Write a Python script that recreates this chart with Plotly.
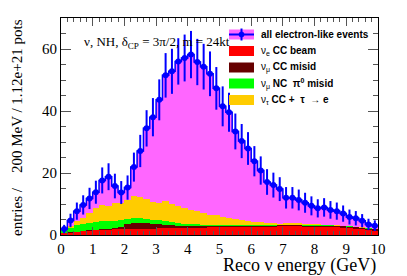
import numpy as np
import plotly.graph_objects as go

# ---- data (200 MeV bins, 0-10 GeV) ----
bin_centers = [0.1, 0.3, 0.5, 0.7, 0.9, 1.1, 1.3, 1.5, 1.7, 1.9,
               2.1, 2.3, 2.5, 2.7, 2.9, 3.1, 3.3, 3.5, 3.7, 3.9,
               4.1, 4.3, 4.5, 4.7, 4.9, 5.1, 5.3, 5.5, 5.7, 5.9,
               6.1, 6.3, 6.5, 6.7, 6.9, 7.1, 7.3, 7.5, 7.7, 7.9,
               8.1, 8.3, 8.5, 8.7, 8.9, 9.1, 9.3, 9.5, 9.7, 9.9]

all_events = [1.9, 4.7, 7.7, 9.7, 11.8, 13.8, 17.6, 18.8, 15.8, 13.7,
              15.3, 21.9, 27.1, 34.4, 38.0, 43.6, 51.5, 52.8, 56.0, 57.1,
              58.2, 55.8, 54.3, 52.0, 47.3, 41.5, 39.6, 33.4, 30.3, 27.9,
              23.8, 20.8, 17.1, 16.1, 14.8, 12.0, 12.0, 11.3, 10.4, 9.4,
              8.6, 8.9, 8.1, 7.7, 6.9, 5.8, 5.4, 4.6, 3.4, 3.0]

nue_cc_beam = [0.6, 0.8, 1.0, 1.2, 1.4, 1.5, 1.6, 1.7, 1.8, 1.9,
               2.0, 2.0, 2.0, 2.0, 2.0, 2.1, 2.1, 2.2, 2.2, 2.3,
               2.3, 2.4, 2.4, 2.5, 2.5, 2.6, 2.6, 2.6, 2.6, 2.6,
               2.7, 2.7, 2.7, 2.7, 2.8, 2.8, 2.8, 2.8, 2.7, 2.7,
               2.7, 2.6, 2.6, 2.5, 2.3, 2.2, 2.0, 1.8, 1.6, 1.4]

numu_cc_misid = [0.05, 0.1, 0.1, 0.1, 0.15, 0.15, 0.2, 0.25, 0.4, 0.8,
                 1.5, 1.9, 2.0, 1.9, 1.7, 1.4, 1.2, 1.0, 0.8, 0.6,
                 0.6, 0.5, 0.5, 0.4, 0.4, 0.4, 0.35, 0.35, 0.3, 0.3,
                 0.3, 0.3, 0.3, 0.3, 0.3, 0.3, 0.3, 0.3, 0.35, 0.35,
                 0.35, 0.4, 0.4, 0.4, 0.45, 0.45, 0.45, 0.45, 0.4, 0.4]

numu_nc_pi0_misid = [0.85, 1.5, 2.0, 2.3, 2.45, 2.65, 2.7, 2.55, 2.2, 2.1,
                     1.8, 1.6, 1.5, 1.4, 1.3, 1.2, 1.1, 1.0, 0.9, 0.8,
                     0.6, 0.5, 0.45, 0.4, 0.35, 0.3, 0.3, 0.25, 0.25, 0.2,
                     0.2, 0.2, 0.15, 0.15, 0.1, 0.1, 0.1, 0.1, 0.1, 0.1,
                     0.1, 0.1, 0.1, 0.1, 0.1, 0.1, 0.1, 0.1, 0.1, 0.1]

nutau_cc = [0.2, 0.6, 1.5, 1.9, 3.0, 4.3, 5.2, 4.7, 5.9, 5.6,
            6.0, 7.0, 6.6, 6.3, 5.5, 5.6, 6.5, 5.8, 5.3, 5.0,
            4.7, 4.4, 3.75, 3.3, 3.05, 2.5, 2.15, 1.9, 1.65, 1.4,
            1.1, 0.9, 0.85, 0.65, 0.5, 0.7, 0.8, 0.7, 0.55, 0.35,
            0.25, 0.2, 0.2, 0.2, 0.15, 0.15, 0.15, 0.15, 0.1, 0.1]

bin_width = 0.2
x_ticks = [0, 1, 2, 3, 4, 5, 6, 7, 8, 9, 10]
y_ticks = [0, 20, 40, 60]

# ---- colours ----
C_PINK = "#ff66ff"
C_RED = "#ff0000"
C_DARKRED = "#660000"
C_GREEN = "#00ff00"
C_YELLOW = "#ffcc00"
C_BLUE = "#0000ff"

x = np.array(bin_centers)
r = np.array(nue_cc_beam)
d = np.array(numu_cc_misid)
g = np.array(numu_nc_pi0_misid)
t = np.array(nutau_cc)
tot = np.array(all_events)

fig = go.Figure()

# total (pink) histogram
fig.add_trace(go.Bar(x=x, y=tot, width=bin_width, marker=dict(color=C_PINK, line=dict(width=0)),
                     showlegend=False, hoverinfo="skip"))
# stacked components drawn on top
fig.add_trace(go.Bar(x=x, y=t, base=r + d + g, width=bin_width,
                     marker=dict(color=C_YELLOW, line=dict(width=0)), showlegend=False))
fig.add_trace(go.Bar(x=x, y=g, base=r + d, width=bin_width,
                     marker=dict(color=C_GREEN, line=dict(width=0)), showlegend=False))
fig.add_trace(go.Bar(x=x, y=d, base=r, width=bin_width,
                     marker=dict(color=C_DARKRED, line=dict(width=0)), showlegend=False))
fig.add_trace(go.Bar(x=x, y=r, width=bin_width,
                     marker=dict(color=C_RED, line=dict(width=0)), showlegend=False))

# step outline of the total
fig.add_trace(go.Scatter(x=x, y=tot, mode="lines", line=dict(color=C_BLUE, width=1.5, shape="hvh"),
                         showlegend=False, hoverinfo="skip"))
# points with sqrt(N) errors and bin-width x errors
fig.add_trace(go.Scatter(x=x, y=tot, mode="markers",
                         marker=dict(color=C_BLUE, size=6, symbol="circle"),
                         error_y=dict(type="data", array=np.sqrt(tot), color=C_BLUE, thickness=2, width=0),
                         error_x=dict(type="constant", value=bin_width / 2, color=C_BLUE, thickness=2, width=0),
                         showlegend=False))

SERIF = "Liberation Serif"
SANS = "Liberation Sans"

# plot-area pixel geometry
L, R, T, B = 61, 378, 18, 235
W, H = 407, 276
pw, ph = R - L, B - T

def px_x(p):
    return (p - L) / pw

def px_y(p):
    return (B - p) / ph

shapes = []
annotations = []

# legend (manual)
legend_entries = [
    ("<b>all electron-like events</b>", C_PINK),
    ("ν<sub>e</sub> <b>CC beam</b>", C_RED),
    ("ν<sub>μ</sub> <b>CC misid</b>", C_DARKRED),
    ("ν<sub>μ</sub> <b>NC  π<sup>0</sup> misid</b>", C_GREEN),
    ("ν<sub>τ</sub> <b>CC +  τ  → e</b>", C_YELLOW),
]
legend_y = [34.5, 51, 67.5, 83.5, 100]
sx0, sx1 = 229, 254
for (label, col), yc in zip(legend_entries, legend_y):
    shapes.append(dict(type="rect", xref="paper", yref="paper",
                       x0=px_x(sx0), x1=px_x(sx1), y0=px_y(yc + 5), y1=px_y(yc - 5),
                       fillcolor=col, line=dict(width=0), layer="above"))
    annotations.append(dict(text=label, xref="paper", yref="paper", x=px_x(259), y=px_y(yc),
                            xanchor="left", yanchor="middle", showarrow=False,
                            font=dict(family=SANS, size=10, color="black")))
# marker + error on first legend entry
yc0 = legend_y[0]
shapes.append(dict(type="line", xref="paper", yref="paper", x0=px_x(sx0), x1=px_x(sx1),
                   y0=px_y(yc0), y1=px_y(yc0), line=dict(color=C_BLUE, width=2), layer="above"))
shapes.append(dict(type="line", xref="paper", yref="paper", x0=px_x(241.5), x1=px_x(241.5),
                   y0=px_y(yc0 - 6), y1=px_y(yc0 + 6), line=dict(color=C_BLUE, width=2), layer="above"))
shapes.append(dict(type="circle", xref="paper", yref="paper", x0=px_x(239), x1=px_x(244),
                   y0=px_y(yc0 + 2.5), y1=px_y(yc0 - 2.5), fillcolor=C_BLUE,
                   line=dict(color=C_BLUE, width=1), layer="above"))

# text label
annotations.append(dict(text="ν, NH, δ<sub>CP</sub> = 3π/2, m = 24kt", xref="paper", yref="paper",
                        x=px_x(82), y=px_y(43), xanchor="left", yanchor="middle", showarrow=False,
                        font=dict(family=SERIF, size=13, color="black")))
# y title
annotations.append(dict(text="entries /\u00a0\u00a0\u00a0 200 MeV / 1.12e+21 pots", xref="paper", yref="paper",
                        x=px_x(17), y=px_y(128), xanchor="center", yanchor="middle", textangle=-90,
                        showarrow=False, font=dict(family=SERIF, size=15, color="black")))
# x title
annotations.append(dict(text="Reco ν energy (GeV)", xref="paper", yref="paper",
                        x=1.0, y=px_y(265), xanchor="right", yanchor="middle", showarrow=False,
                        font=dict(family=SERIF, size=18, color="black")))

fig.update_layout(
    width=W, height=H,
    margin=dict(l=L, r=W - R, t=T, b=H - B, pad=0, autoexpand=False),
    paper_bgcolor="white", plot_bgcolor="white",
    barmode="overlay", bargap=0,
    showlegend=False,
    shapes=shapes, annotations=annotations,
)
fig.update_xaxes(range=[0, 10], tickvals=x_ticks, ticktext=[str(v) for v in x_ticks],
                 ticks="inside", ticklen=8, tickwidth=1, tickcolor="#555",
                 minor=dict(ticks="inside", dtick=0.2, ticklen=4, tickcolor="#555", tickwidth=1),
                 showline=True, linecolor="black", linewidth=1, mirror="ticks",
                 showgrid=False, zeroline=False,
                 tickfont=dict(family=SERIF, size=15, color="black"))
fig.update_yaxes(range=[0, 70], tickvals=y_ticks, ticktext=[str(v) for v in y_ticks],
                 ticks="inside", ticklen=10, tickwidth=1, tickcolor="#555",
                 minor=dict(ticks="inside", dtick=5, ticklen=5, tickcolor="#555", tickwidth=1),
                 showline=True, linecolor="black", linewidth=1, mirror="ticks",
                 showgrid=False, zeroline=False,
                 tickfont=dict(family=SERIF, size=15, color="black"))

fig.write_html("out.html", config={"displayModeBar": False, "staticPlot": True},
               post_script="document.body.style.margin='0';document.body.style.overflow='hidden';")
